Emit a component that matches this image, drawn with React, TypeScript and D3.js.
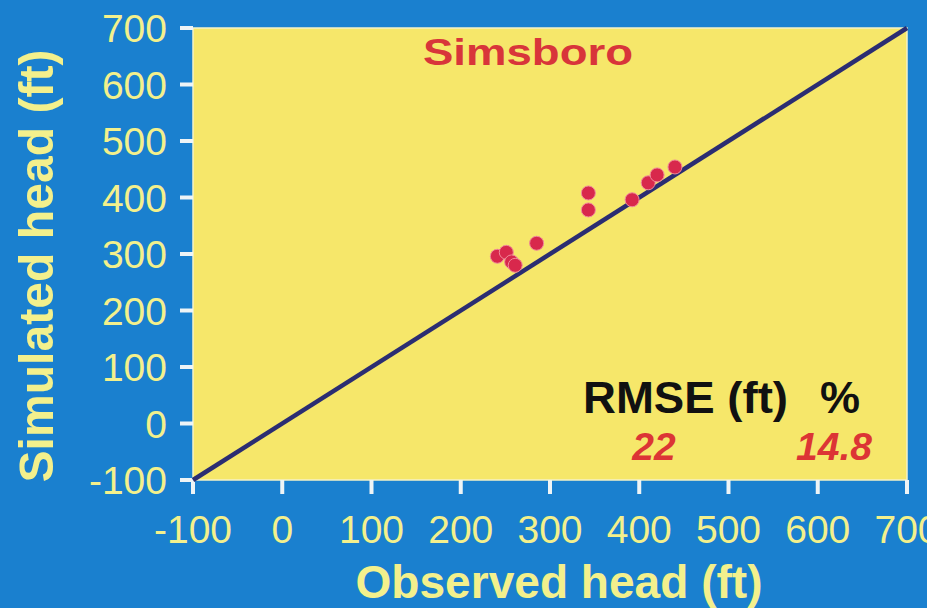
import React from "react";
import * as d3 from "d3";

const observedHead = [241, 251, 257, 261, 285, 343, 343, 392, 410, 420, 440];
const simulatedHead = [296, 303, 286, 280, 319, 408, 378, 396, 426, 440, 454];
const tickValues = [-100, 0, 100, 200, 300, 400, 500, 600, 700];
const titleText = "Simsboro";
const xTitle = "Observed head (ft)";
const yTitle = "Simulated head (ft)";
const statHeaders = ["RMSE (ft)", "%"];
const statValues = ["22", "14.8"];

const W = 927;
const H = 608;
const BLUE = "#1a80cf";
const YELLOW = "#f6e76a";
const LABEL = "#f3f08c";
const FONT = "'Liberation Sans', Arial, Helvetica, sans-serif";

export default function App() {
  const x = d3.scaleLinear().domain([-100, 700]).range([193, 907]);
  const y = d3.scaleLinear().domain([-100, 700]).range([480, 28]);
  const pts = observedHead.map((o, i) => ({ o, s: simulatedHead[i] }));
  const line = d3.line<number>().x((d) => x(d)).y((d) => y(d));

  return (
    <svg
      width={W}
      height={H}
      style={{ position: "absolute", left: 0, top: 0, display: "block" }}
      fontFamily={FONT}
    >
      <rect x={0} y={0} width={W} height={H} fill={BLUE} />
      <rect
        x={x(-100)}
        y={y(700)}
        width={x(700) - x(-100)}
        height={y(-100) - y(700)}
        fill={YELLOW}
        stroke="#f4f2c8"
        strokeWidth={1.5}
      />
      {/* y ticks */}
      {tickValues.map((t) => (
        <g key={"y" + t}>
          <line x1={x(-100) - 13} x2={x(-100)} y1={y(t)} y2={y(t)} stroke="#eef4f6" strokeWidth={4} />
          <text
            x={167}
            y={y(t)}
            dy="0.36em"
            textAnchor="end"
            fontSize={39}
            fill={LABEL}
          >
            {t}
          </text>
        </g>
      ))}
      {/* x ticks */}
      {tickValues.map((t) => (
        <g key={"x" + t}>
          <line x1={x(t)} x2={x(t)} y1={y(-100)} y2={y(-100) + 14} stroke="#eef4f6" strokeWidth={4} />
          <text x={x(t)} y={543} textAnchor="middle" fontSize={39} fill={LABEL}>
            {t}
          </text>
        </g>
      ))}
      {/* 1:1 line */}
      <path d={line([-100, 700]) || ""} stroke="#2b2d72" strokeWidth={4.5} fill="none" />
      {/* points */}
      {pts.map((p, i) => (
        <circle key={i} cx={x(p.o)} cy={y(p.s)} r={7} fill="#d8284c" stroke="#f08a9a" strokeWidth={1} />
      ))}
      <text x={528} y={65} textAnchor="middle" fontSize={37} fontWeight="bold" fill="#d8353a" textLength={210} lengthAdjust="spacingAndGlyphs">
        {titleText}
      </text>
      <text x={583} y={413} fontSize={45} fontWeight="bold" fill="#111" textLength={205} lengthAdjust="spacingAndGlyphs">
        {statHeaders[0]}
      </text>
      <text x={820} y={413} fontSize={45} fontWeight="bold" fill="#111">
        {statHeaders[1]}
      </text>
      <text x={654} y={460} textAnchor="middle" fontSize={39} fontWeight="bold" fontStyle="italic" fill="#dc3535">
        {statValues[0]}
      </text>
      <text x={834} y={460} textAnchor="middle" fontSize={39} fontWeight="bold" fontStyle="italic" fill="#dc3535">
        {statValues[1]}
      </text>
      <text x={559} y={598} textAnchor="middle" fontSize={47} fontWeight="bold" fill={LABEL} textLength={407} lengthAdjust="spacingAndGlyphs">
        {xTitle}
      </text>
      <text
        transform={`translate(53, 266) rotate(-90)`}
        textAnchor="middle"
        fontSize={48}
        fontWeight="bold"
        fill={LABEL}
        textLength={433}
        lengthAdjust="spacingAndGlyphs"
      >
        {yTitle}
      </text>
    </svg>
  );
}
